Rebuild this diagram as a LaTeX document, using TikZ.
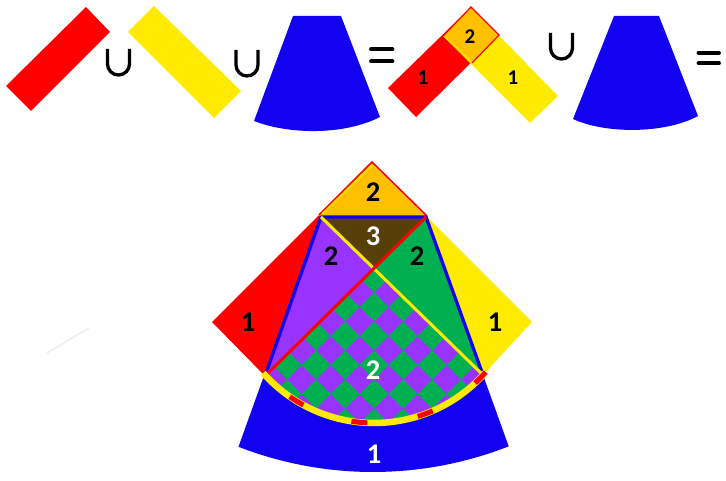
\documentclass[tikz,border=0pt]{standalone}
\usepackage{fontspec}
\setmainfont{Carlito}
\definecolor{cred}{RGB}{255,0,0}
\definecolor{cyel}{RGB}{255,235,0}
\definecolor{cblue}{RGB}{18,0,240}
\definecolor{corange}{RGB}{255,192,0}
\definecolor{cpurple}{RGB}{153,51,255}
\definecolor{cgreen}{RGB}{0,176,80}
\definecolor{cbrown}{RGB}{87,64,8}
\tikzset{
  biglab/.style={font=\bfseries\fontsize{28.5}{28.5}\selectfont, inner sep=0pt},
  smalllab/.style={font=\bfseries\fontsize{21}{21}\selectfont, inner sep=0pt},
  opbar/.style={line width=3.8, line cap=round},
  unionsym/.pic={\draw[line width=3.3] (-11,-13) -- (-11,2) .. controls (-11,8.08) and (-6.08,13) .. (0,13) .. controls (6.08,13) and (11,8.08) .. (11,2) -- (11,-13);}
}
\begin{document}
\begin{tikzpicture}[x=1pt,y=-1pt]
\useasboundingbox (0,0) rectangle (726,481);
% ---------- top row ----------
\fill[cred] (6,86) -- (31,111) -- (110,32) -- (86,7) -- cycle;
\pic at (118.5,62) {unionsym};
\fill[cyel] (128,32) -- (154,6) -- (241,91) -- (214,118) -- cycle;
\pic at (247,63) {unionsym};
\fill[cblue] (293,16) -- (341,16) -- (380,117) .. controls (345,135) and (290,135) .. (254,121) -- cycle;
\draw[opbar] (371,49.2) -- (392.5,49.2);
\draw[opbar] (371,61.3) -- (392.5,61.3);
\fill[cred] (388,88) -- (471,7) -- (499,35) -- (416,117) -- cycle;
\fill[cyel] (443,36) -- (471,7) -- (558,96) -- (530,123) -- cycle;
\fill[corange] (471,7) -- (443,36) -- (472,63) -- (499,35) -- cycle;
\draw[cyel, line width=1.2] (444.5,36.5) -- (472,62);
\draw[cred, line width=1.2] (443,36) -- (471,7) -- (499,35) -- (472,63);
\node[smalllab] (t1) at (423,78) {1};
\node[smalllab] (t2) at (470,37) {2};
\node[smalllab] (t3) at (513,78) {1};
\pic at (561.5,46) {unionsym};
\fill[cblue] (614,16) -- (659,16) -- (698,116) .. controls (665,134) and (605,134) .. (573,119) -- cycle;
\draw[opbar] (698.5,52.8) -- (719,52.8);
\draw[opbar] (698.5,63.2) -- (719,63.2);
% faint stroke
\draw[black!7, line width=1.5] (47,353) -- (89,328);
% ---------- big figure ----------
\fill[cred] (212,322) -- (372,162) -- (427,216) -- (266,377) -- cycle;
\fill[cyel] (372,162) -- (532,322) -- (482,376) -- (319,215) -- cycle;
\fill[corange] (372,162) -- (319,215) -- (374,268.5) -- (427,216) -- cycle;
% blue sector
\fill[cblue] (321,217) -- plot[domain=111.2:68.6, samples=50] ({373+372*cos(\x)},{100+372*sin(\x)}) -- (426,217) -- cycle;
% inner regions
\fill[cbrown] (321,217) -- (426,217) -- (374,268.5) -- cycle;
\fill[cpurple] (321,217) -- (374,268.5) -- (265,376) -- cycle;
\fill[cgreen] (426,217) -- (374,268.5) -- (483,375) -- cycle;
\begin{scope}
\clip (374,268.5) -- (265.4,375.6) -- plot[domain=137.2:42.5, samples=50] ({374+148*cos(\x)},{275+148*sin(\x)}) -- cycle;
\fill[cpurple] (240,250) rectangle (510,440);
\foreach \i in {-5,...,5} {
  \foreach \j in {-1,...,6} {
    \fill[cgreen] ({374+\i*29},{263.5+\j*29}) -- ++(14.5,14.5) -- ++(-14.5,14.5) -- ++(-14.5,-14.5) -- cycle;
  }
}
\end{scope}
% outlines
\draw[cred, line width=1.5] (319,215) -- (372,162) -- (427,216);
\draw[cyel, line width=1.5] (322,214) -- (372,165);
\draw[cblue, line width=3.3, line join=round] (265,376) -- (321,217) -- (426,217) -- (483,375);
\draw[cyel, line width=3] (321,217) -- (483,375);
\draw[cred, line width=3] (426,217) -- (265,376);
% dashed arc
\draw[cyel, line width=6.5] plot[domain=138.5:41, samples=60] ({374+148*cos(\x)},{275+148*sin(\x)});
\draw[cred, line width=5, dash pattern=on 16pt off 51pt, dash phase=31.4pt] plot[domain=138.5:41, samples=60] ({374+148*cos(\x)},{275+148*sin(\x)});
% labels
\node[biglab] (lr) at (248,322) {1};
\node[biglab] (ly) at (495,322) {1};
\node[biglab] (lo) at (373,192) {2};
\node[biglab, white] (lb) at (373,236) {3};
\node[biglab] (lp) at (331,256) {2};
\node[biglab] (lg) at (417,256) {2};
\node[biglab, white] (lc) at (373,370) {2};
\node[biglab, white] (lu) at (374,454) {1};
\end{tikzpicture}
\end{document}
